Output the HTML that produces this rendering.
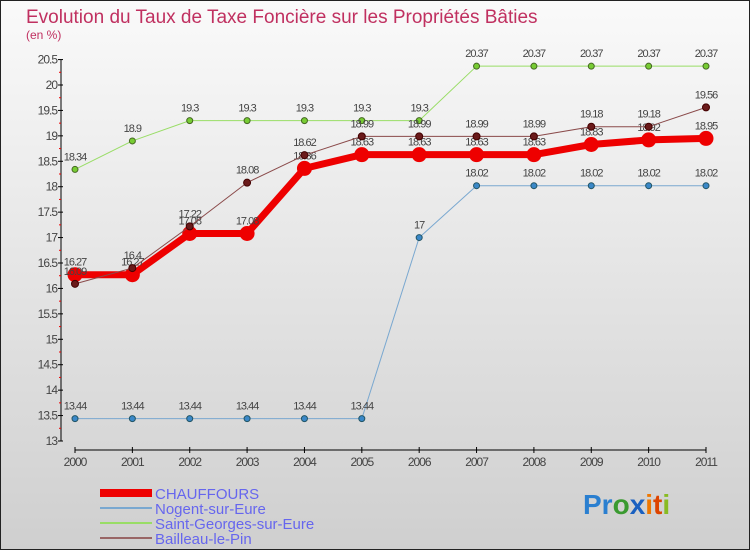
<!DOCTYPE html>
<html><head><meta charset="utf-8"><style>
body{margin:0;width:750px;height:550px;overflow:hidden}
svg{display:block;font-family:"Liberation Sans",sans-serif}
</style></head><body>
<svg width="750" height="550" viewBox="0 0 750 550">
<defs><linearGradient id="bg" x1="0" y1="0" x2="0" y2="1"><stop offset="0" stop-color="#fafafa"/><stop offset="1" stop-color="#cfcfcf"/></linearGradient></defs>
<rect x="0.5" y="0.5" width="749" height="549" fill="url(#bg)" stroke="#222"/>
<text x="26" y="23" font-size="19" fill="#c03060">Evolution du Taux de Taxe Foncière sur les Propriétés Bâties</text>
<text x="26" y="39" font-size="12" fill="#c03060">(en %)</text>
<g id="axes"></g>
<g id="series"></g>
<g id="legend" font-size="15" fill="#6666ee">
<rect x="100" y="489" width="52" height="8" fill="#e00"/>
<text x="155" y="499" fill="#6666ee">CHAUFFOURS</text>
<line x1="100" y1="508" x2="152" y2="508" stroke="#7aa8d0" stroke-width="2"/>
<text x="155" y="514" fill="#6666ee">Nogent-sur-Eure</text>
<line x1="100" y1="523" x2="152" y2="523" stroke="#99dd66" stroke-width="2"/>
<text x="155" y="529" fill="#6666ee">Saint-Georges-sur-Eure</text>
<line x1="100" y1="538" x2="152" y2="538" stroke="#996666" stroke-width="2"/>
<text x="155" y="544" fill="#6666ee">Bailleau-le-Pin</text>
</g>
<g font-size="28" font-weight="bold">
<text x="583" y="514"><tspan fill="#2a7fd0">Pr</tspan><tspan fill="#3a9a30">o</tspan><tspan fill="#1a60c0">x</tspan><tspan fill="#ee7700">i</tspan><tspan fill="#dd4400">t</tspan><tspan fill="#88bb22">i</tspan></text>
</g>
</svg>
<script>
const years=[2000,2001,2002,2003,2004,2005,2006,2007,2008,2009,2010,2011];
const yTicks=[13,13.5,14,14.5,15,15.5,16,16.5,17,17.5,18,18.5,19,19.5,20,20.5];
const chauffours=[16.27,16.27,17.08,17.08,18.36,18.63,18.63,18.63,18.63,18.83,18.92,18.95];
const nogent=[13.44,13.44,13.44,13.44,13.44,13.44,17,18.02,18.02,18.02,18.02,18.02];
const saintGeorges=[18.34,18.9,19.3,19.3,19.3,19.3,19.3,20.37,20.37,20.37,20.37,20.37];
const bailleau=[16.09,16.4,17.22,18.08,18.62,18.99,18.99,18.99,18.99,19.18,19.18,19.56];
const NS="http://www.w3.org/2000/svg";
const xp=i=>75+i*(631/11);
const yp=v=>441-(v-13)*(356/7);
function mk(tag,attrs,parent){const e=document.createElementNS(NS,tag);for(const k in attrs)e.setAttribute(k,attrs[k]);parent.appendChild(e);return e;}
const ax=document.getElementById('axes');
let l=mk('line',{x1:61,y1:yp(20.5),x2:61,y2:yp(13),stroke:'#000','stroke-width':1},ax);


for(let v=13;v<=20.5;v+=0.25){
 const major=Math.abs(v*2-Math.round(v*2))<1e-6;
 const t=mk('line',{x1:major?58:59,y1:yp(v),x2:major?63:61,y2:yp(v),stroke:major?'#000':'#e00','stroke-width':1},ax);
 
 
}
yTicks.forEach(v=>{const t=mk('text',{x:57,y:yp(v)+4,'font-size':12,fill:'#444','text-anchor':'end','letter-spacing':'-1'},ax);t.textContent=String(v);
 
 });
l=mk('line',{x1:75,y1:450,x2:706,y2:450,stroke:'#000','stroke-width':1},ax);


years.forEach((y,i)=>{const t=mk('line',{x1:xp(i),y1:447,x2:xp(i),y2:453,stroke:'#000'},ax);
 
 
 const tx=mk('text',{x:xp(i),y:466,'font-size':12,fill:'#444','text-anchor':'middle','letter-spacing':'-1'},ax);tx.textContent=y;
 
 });
const sg=document.getElementById('series');
function series(name,data,color,w,r,dot,dotStroke){
 const g=mk('g',{},sg);
 
 
 const p=mk('polyline',{points:data.map((v,i)=>xp(i)+','+yp(v)).join(' '),fill:'none',stroke:color,'stroke-width':w,'stroke-linejoin':'round'},g);
 
 
 data.forEach((v,i)=>{const c=mk('circle',{cx:xp(i),cy:yp(v),r:r,fill:dot,stroke:dotStroke,'stroke-width':1},g);
  
  
  const t=mk('text',{x:xp(i),y:yp(v)-9,'font-size':11,fill:'#444','text-anchor':'middle','letter-spacing':'-1'},g);t.textContent=String(v);
  
  });
}
series('nogent',nogent,'#7aa8d0',1,3,'#3a88c8','#256');
series('saint-georges',saintGeorges,'#99dd66',1,3,'#77cc33','#462');
series('chauffours',chauffours,'#ee0000',7,7,'#ee0000','#ee0000');
series('bailleau',bailleau,'#8a4a4a',1,3.5,'#6a1a1a','#400');
</script>
</body></html>
